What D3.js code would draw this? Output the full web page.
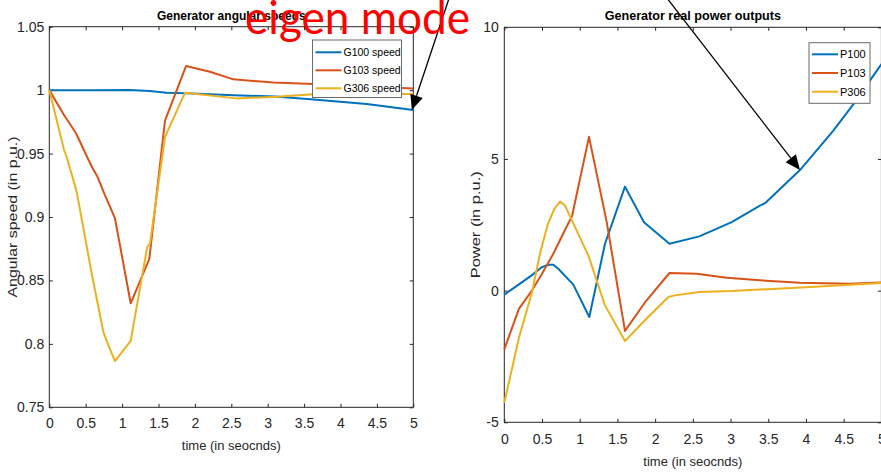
<!DOCTYPE html>
<html>
<head>
<meta charset="utf-8">
<script src="https://cdn.jsdelivr.net/npm/d3@7"></script>
<style>
  html, body { margin: 0; padding: 0; background: #ffffff; }
  svg { display: block; }
  .tick text { font-family: "Liberation Sans Narrow", "Arial Narrow", "Liberation Sans", Arial, sans-serif; fill: #262626; }
</style>
</head>
<body>
<svg id="chart" width="881" height="473"></svg>
<script>
// ---- Generator angular speeds (p.u.) ----
const timeG100 = [0, 0.6, 1.1, 1.38, 1.61, 1.88, 2.53, 3.1, 3.63, 4.36, 5];
const speedG100 = [1.0, 0.9999, 1.0002, 0.9993, 0.998, 0.9975, 0.996, 0.995, 0.9927, 0.989, 0.9843];

const timeG103 = [0, 0.206, 0.367, 0.58, 0.66, 0.765, 0.835, 0.902, 1.118, 1.374, 1.589, 1.878, 2.207, 2.527, 3.08, 3.63, 4.3, 5];
const speedG103 = [1.0, 0.980, 0.966, 0.940, 0.932, 0.917, 0.908, 0.899, 0.832, 0.867, 0.976, 1.019, 1.0145, 1.0085, 1.006, 1.0048, 1.003, 1.0013];

const timeG306 = [0, 0.202, 0.238, 0.376, 0.582, 0.742, 0.82, 0.902, 1.118, 1.346, 1.383, 1.589, 1.864, 2.57, 3.12, 3.63, 4.5, 5];
const speedG306 = [1.0, 0.953, 0.9475, 0.920, 0.8555, 0.8095, 0.7976, 0.7864, 0.8024, 0.8765, 0.879, 0.963, 0.998, 0.9935, 0.9948, 0.9967, 0.9975, 0.9968];

// ---- Generator real power outputs (p.u.) ----
const timeP100 = [0, 0.208, 0.363, 0.496, 0.584, 0.65, 0.716, 0.915, 1.127, 1.335, 1.6, 1.852, 2.19, 2.586, 3.015, 3.39, 3.457, 3.92, 4.36, 4.63, 5];
const powerP100 = [-0.15, 0.265, 0.58, 0.89, 0.985, 0.985, 0.83, 0.23, -1.0, 1.78, 3.95, 2.6, 1.78, 2.06, 2.6, 3.23, 3.32, 4.58, 6.07, 7.08, 8.6];

const timeP103 = [0, 0.195, 0.354, 0.496, 0.65, 0.78, 0.9, 1.123, 1.358, 1.6, 1.865, 2.19, 2.55, 2.95, 3.39, 3.92, 4.58, 5];
const powerP103 = [-2.23, -0.68, -0.05, 0.62, 1.40, 2.16, 2.85, 5.84, 2.6, -1.53, -0.45, 0.67, 0.64, 0.49, 0.39, 0.30, 0.265, 0.31];

const timeP306 = [0, 0.195, 0.363, 0.473, 0.575, 0.663, 0.739, 0.805, 0.96, 1.114, 1.335, 1.6, 1.865, 2.175, 2.26, 2.586, 3.015, 4.0, 5];
const powerP306 = [-4.26, -1.78, -0.11, 1.40, 2.51, 3.1, 3.38, 3.23, 2.28, 1.34, -0.56, -1.91, -1.125, -0.24, -0.18, -0.05, -0.015, 0.13, 0.29];

// ---- Ticks and labels ----
const timeTicks = [0, 0.5, 1, 1.5, 2, 2.5, 3, 3.5, 4, 4.5, 5];
const timeTickLabels = ["0", "0.5", "1", "1.5", "2", "2.5", "3", "3.5", "4", "4.5", "5"];
const speedTicks = [0.75, 0.8, 0.85, 0.9, 0.95, 1, 1.05];
const speedTickLabels = ["0.75", "0.8", "0.85", "0.9", "0.95", "1", "1.05"];
const powerTicks = [-5, 0, 5, 10];
const powerTickLabels = ["-5", "0", "5", "10"];

const speedNames = ["G100 speed", "G103 speed", "G306 speed"];
const powerNames = ["P100", "P103", "P306"];
const seriesColors = ["#0072BD", "#D95319", "#EDB120"];

const svg = d3.select("#chart");
const axisColor = "#262626";
const textFont = '"Liberation Sans", Arial, sans-serif';

function zip(ts, vs) { return ts.map((t, i) => ({ t: t, v: vs[i] })); }

function drawPanel(p) {
  const x = d3.scaleLinear().domain([0, 5]).range([p.left, p.right]);
  const y = d3.scaleLinear().domain(p.yDomain).range([p.bottom, p.top]);
  const g = svg.append("g");
  const tick = 3.5;

  // inward ticks on all four sides, labels on bottom and left
  const bottom = g.append("g").attr("transform", `translate(0,${p.bottom})`)
    .call(d3.axisBottom(x).tickValues(timeTicks).tickFormat((d, i) => timeTickLabels[i])
      .tickSizeInner(-tick).tickSizeOuter(0).tickPadding(p.xPad));
  bottom.selectAll("text").attr("font-size", p.tickFont);
  const left = g.append("g").attr("transform", `translate(${p.left},0)`)
    .call(d3.axisLeft(y).tickValues(p.yTicks).tickFormat((d, i) => p.yLabels[i])
      .tickSizeInner(-tick).tickSizeOuter(0).tickPadding(p.yPad));
  left.selectAll("text").attr("font-size", p.tickFont);
  g.append("g").attr("transform", `translate(0,${p.top})`)
    .call(d3.axisTop(x).tickValues(timeTicks).tickFormat("").tickSizeInner(-tick).tickSizeOuter(0));
  g.append("g").attr("transform", `translate(${p.right},0)`)
    .call(d3.axisRight(y).tickValues(p.yTicks).tickFormat("").tickSizeInner(-tick).tickSizeOuter(0));
  g.selectAll(".domain").remove();
  g.selectAll(".tick line").attr("stroke", axisColor);

  // box
  g.append("rect").attr("x", p.left).attr("y", p.top)
    .attr("width", p.right - p.left).attr("height", p.bottom - p.top)
    .attr("fill", "none").attr("stroke", axisColor).attr("stroke-width", 1);

  // series
  const line = d3.line().x(d => x(d.t)).y(d => y(d.v));
  p.series.forEach((s, i) => {
    g.append("path").datum(s).attr("d", line)
      .attr("fill", "none").attr("stroke", seriesColors[i])
      .attr("stroke-width", 2).attr("stroke-linejoin", "round");
  });

  // title
  g.append("text").attr("x", (p.left + p.right) / 2).attr("y", p.titleY)
    .attr("text-anchor", "middle").attr("font-family", textFont)
    .attr("font-weight", "bold").attr("font-size", p.titleFont).attr("fill", "#000")
    .text(p.title);
  // x label
  g.append("text").attr("x", (p.left + p.right) / 2).attr("y", p.xLabelY)
    .attr("text-anchor", "middle").attr("font-family", textFont)
    .attr("font-size", p.labelFont).attr("fill", axisColor)
    .text("time (in seocnds)");
  // y label
  g.append("text")
    .attr("transform", `translate(${p.yLabelX},${(p.top + p.bottom) / 2}) rotate(-90)`)
    .attr("text-anchor", "middle").attr("font-family", textFont)
    .attr("font-size", p.labelFont).attr("fill", axisColor)
    .attr("textLength", p.yLabelLen).attr("lengthAdjust", "spacingAndGlyphs")
    .text(p.yLabel);

  // legend
  const L = p.legend;
  const lg = g.append("g");
  lg.append("rect").attr("x", L.x).attr("y", L.y).attr("width", L.w).attr("height", L.h)
    .attr("fill", "#fff").attr("stroke", "#6b6b6b").attr("stroke-width", 1);
  p.names.forEach((n, i) => {
    const yy = L.y + L.row0 + i * L.rowStep;
    lg.append("line").attr("x1", L.x + 3).attr("x2", L.x + 29).attr("y1", yy).attr("y2", yy)
      .attr("stroke", seriesColors[i]).attr("stroke-width", 2);
    lg.append("text").attr("x", L.x + 31).attr("y", yy + 4)
      .attr("font-family", textFont).attr("font-size", L.font).attr("fill", "#000")
      .text(n);
  });
  return { x: x, y: y };
}

const leftPanel = drawPanel({
  left: 49.3, right: 413.3, top: 26.7, bottom: 407.3,
  yDomain: [0.75, 1.05], yTicks: speedTicks, yLabels: speedTickLabels,
  tickFont: 14, xPad: 11, yPad: 5,
  series: [zip(timeG100, speedG100), zip(timeG103, speedG103), zip(timeG306, speedG306)],
  title: "Generator angular speeds", titleY: 19.5, titleFont: 12,
  xLabelY: 450, labelFont: 13, yLabelX: 16.5, yLabelLen: 161,
  yLabel: "Angular speed (in p.u.)",
  names: speedNames,
  legend: { x: 312.5, y: 40, w: 89, h: 57.5, row0: 12.3, rowStep: 18, font: 10.5 }
});

const rightPanel = drawPanel({
  left: 504.3, right: 881.4, top: 27.3, bottom: 422.3,
  yDomain: [-5, 10], yTicks: powerTicks, yLabels: powerTickLabels,
  tickFont: 14, xPad: 12, yPad: 5.5,
  series: [zip(timeP100, powerP100), zip(timeP103, powerP103), zip(timeP306, powerP306)],
  title: "Generator real power outputs", titleY: 20, titleFont: 12.6,
  xLabelY: 466, labelFont: 13, yLabelX: 480, yLabelLen: 107,
  yLabel: "Power (in p.u.)",
  names: powerNames,
  legend: { x: 809, y: 42.7, w: 61, h: 60.6, row0: 11.6, rowStep: 18.7, font: 11 }
});

// ---- annotation: arrows to the growing mode ----
function arrow(tipX, tipY, dx, dy) {
  const len = Math.hypot(dx, dy), ux = dx / len, uy = dy / len;
  const headL = 15, headW = 6.5;
  const bx = tipX - ux * headL, by = tipY - uy * headL;
  svg.append("line").attr("x1", tipX - dx).attr("y1", tipY - dy).attr("x2", bx).attr("y2", by)
    .attr("stroke", "#000").attr("stroke-width", 1.3);
  svg.append("path")
    .attr("d", `M${tipX},${tipY}L${bx - uy * headW},${by + ux * headW}L${bx + uy * headW},${by - ux * headW}Z`)
    .attr("fill", "#000");
}
const lastG100 = timeG100.length - 1;
arrow(leftPanel.x(timeG100[lastG100]) - 1.5, leftPanel.y(speedG100[lastG100]), -40, 120);
const hitP100 = 17; // t = 3.92 s sample on P100
arrow(rightPanel.x(timeP100[hitP100]), rightPanel.y(powerP100[hitP100]), 140, 181);

svg.append("text").attr("x", 245).attr("y", 33.5)
  .attr("font-family", "Lato, 'Open Sans', sans-serif").attr("font-size", 46)
  .attr("fill", "#ff0000").attr("textLength", 225).attr("lengthAdjust", "spacingAndGlyphs")
  .text("eigen mode");
</script>
</body>
</html>
